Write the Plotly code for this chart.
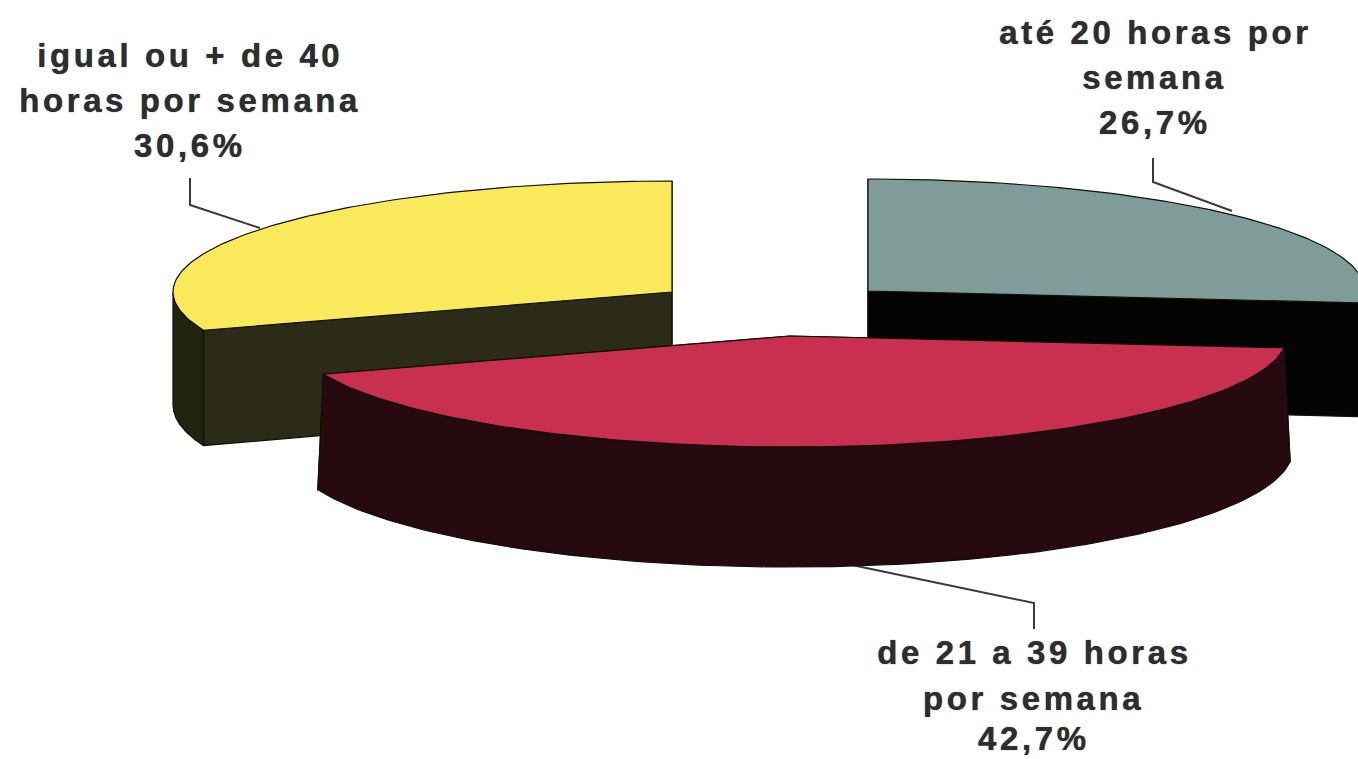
import numpy as np
import plotly.graph_objects as go

# valores
categorias = ["até 20 horas por semana", "de 21 a 39 horas por semana", "igual ou + de 40 horas por semana"]
valores = [26.7, 42.7, 30.6]
rotulos = [
    ["até 20 horas por", "semana", "26,7%"],
    ["de 21 a 39 horas", "por semana", "42,7%"],
    ["igual ou + de 40", "horas por semana", "30,6%"],
]
cores_topo = ["#7f9c98", "#c9304f", "#fbe95c"]
cores_parede = ["#040404", "#260a10", "#2c2b17"]
cores_lateral = ["#0a0a0a", "#260a10", "#23240f"]

W, H = 1358, 759
ALTURA = 113
# centro de cada fatia (fatias separadas), raios do topo e da base
CENTROS = [(868, 291), (790, 336), (672, 292)]
RAIOS = [(497, 112), (497, 111), (499, 111)]
RAIOS_BASE = [(497, 120), (503, 118), (499, 118)]
POS_ROTULOS = [(1155, [32, 77, 122]), (1034, [652, 698, 738]), (190, [55, 100, 145])]
GUIAS = [
    ([1153, 1153, 1232], [158, 182, 211]),
    ([1034, 1034, 852], [629, 603, 565]),
    ([190, 190, 260], [178, 205, 228]),
]
COR_TEXTO = "#2e2e2e"


def arco(cx, cy, rx, ry, ini, fim, n=120):
    t = np.radians(np.linspace(ini, fim, n))
    return cx + rx * np.sin(t), cy - ry * np.cos(t)


def poligono(fig, x, y, cor, borda="#101008", larg=1.2):
    fig.add_trace(go.Scatter(
        x=list(x) + [x[0]], y=list(y) + [y[0]],
        mode="lines", fill="toself", fillcolor=cor,
        line=dict(color=borda, width=larg), hoverinfo="skip", showlegend=False,
    ))


fig = go.Figure()

angulos = np.cumsum([0] + valores) / sum(valores) * 360

for x_g, y_g in GUIAS:
    fig.add_trace(go.Scatter(x=x_g, y=y_g, mode="lines", line=dict(color="#3a3a3a", width=2),
                             hoverinfo="skip", showlegend=False))

# ordem de desenho: fundo para frente
for i in [0, 2, 1]:
    ini, fim = angulos[i], angulos[i + 1]
    cx, cy = CENTROS[i]
    rx, ry = RAIOS[i]
    rxb, ryb = RAIOS_BASE[i]
    cyb = cy + ALTURA

    # paredes do corte
    for ang in (ini, fim):
        xa, ya = arco(cx, cy, rx, ry, ang, ang, 1)
        xb, yb = arco(cx, cyb, rxb, ryb, ang, ang, 1)
        poligono(fig, [cx, xa[0], xb[0], cx], [cy, ya[0], yb[0], cyb], cores_parede[i])

    # parede externa, so a parte voltada para a frente
    a, b = max(ini, 90), min(fim, 270)
    if b > a:
        xt, yt = arco(cx, cy, rx, ry, a, b)
        xb, yb = arco(cx, cyb, rxb, ryb, a, b)
        poligono(fig, np.r_[xt, xb[::-1]], np.r_[yt, yb[::-1]], cores_lateral[i])

    # topo
    xt, yt = arco(cx, cy, rx, ry, ini, fim)
    poligono(fig, np.r_[cx, xt], np.r_[cy, yt], cores_topo[i])

for (xc, ys), linhas in zip(POS_ROTULOS, rotulos):
    for yl, txt in zip(ys, linhas):
        fig.add_annotation(x=xc, y=yl, text=txt, showarrow=False, xanchor="center", yanchor="middle",
                           font=dict(family="Liberation Sans", size=33, color=COR_TEXTO, weight="bold",
                                     shadow="0 0 1px #2e2e2e"))

fig.update_layout(
    width=W, height=H, margin=dict(l=0, r=0, t=0, b=0),
    paper_bgcolor="white", plot_bgcolor="white", showlegend=False,
    xaxis=dict(range=[0, W], visible=False, fixedrange=True),
    yaxis=dict(range=[H, 0], visible=False, fixedrange=True),
)

# tira a margem da pagina e abre as letras como no original
ajuste = (
    "document.body.style.margin='0';"
    "document.querySelectorAll('.annotation-text').forEach(function(t){t.style.letterSpacing='3.6px';});"
)
fig.write_html("out.html", post_script=ajuste, config={"displayModeBar": False})
